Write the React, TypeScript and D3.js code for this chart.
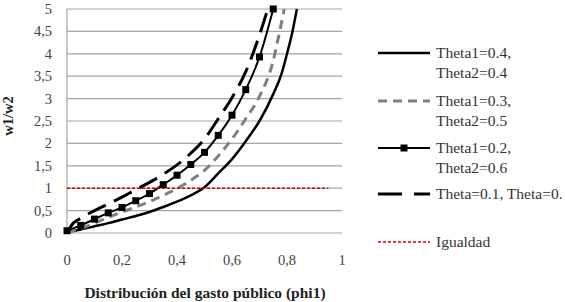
import React from 'react';
import * as d3 from 'd3';

// valores (phi1 -> w1/w2)
const phiSerie1 = [0, 0.05, 0.1, 0.15, 0.2, 0.25, 0.3, 0.35, 0.4, 0.45, 0.5, 0.55, 0.6, 0.65, 0.7, 0.75, 0.78, 0.8, 0.82, 0.836];
const serie1 = [0.02, 0.08, 0.15, 0.22, 0.3, 0.38, 0.47, 0.58, 0.7, 0.84, 1.02, 1.33, 1.65, 2.05, 2.5, 3.1, 3.55, 4.0, 4.5, 5.0];

const phiSerie2 = [0, 0.05, 0.1, 0.15, 0.2, 0.25, 0.3, 0.35, 0.4, 0.45, 0.5, 0.55, 0.6, 0.65, 0.7, 0.75, 0.77, 0.79];
const serie2 = [0.02, 0.1, 0.22, 0.35, 0.47, 0.58, 0.7, 0.84, 0.99, 1.18, 1.4, 1.72, 2.1, 2.55, 3.05, 3.85, 4.4, 5.0];

const phiSerie3 = [0, 0.05, 0.1, 0.15, 0.2, 0.25, 0.3, 0.35, 0.4, 0.45, 0.5, 0.55, 0.6, 0.65, 0.7, 0.75];
const serie3 = [0.05, 0.17, 0.31, 0.45, 0.57, 0.72, 0.88, 1.08, 1.29, 1.53, 1.8, 2.18, 2.63, 3.2, 3.93, 5.0];

const phiSerie4 = [0, 0.02, 0.05, 0.1, 0.15, 0.2, 0.25, 0.3, 0.35, 0.4, 0.45, 0.5, 0.55, 0.6, 0.65, 0.7, 0.73];
const serie4 = [0, 0.2, 0.33, 0.5, 0.65, 0.8, 0.97, 1.13, 1.31, 1.52, 1.78, 2.1, 2.55, 3.02, 3.6, 4.42, 5.0];

const phiIgualdad = [0, 0.05, 0.1, 0.15, 0.2, 0.25, 0.3, 0.35, 0.4, 0.45, 0.5, 0.55, 0.6, 0.65, 0.7, 0.75, 0.8, 0.85, 0.9, 0.95];
const igualdad = phiIgualdad.map(() => 1);

const xTicks = [0, 0.2, 0.4, 0.6, 0.8, 1];
const yTicks = [0, 0.5, 1, 1.5, 2, 2.5, 3, 3.5, 4, 4.5, 5];

const fmt = (v: number) => String(v).replace('.', ',');

const App = () => {
  const width = 565;
  const height = 302;
  const margin = { top: 9, left: 67, plotW: 275, plotH: 224 };

  const x = d3.scaleLinear().domain([0, 1]).range([margin.left, margin.left + margin.plotW]);
  const y = d3.scaleLinear().domain([0, 5]).range([margin.top + margin.plotH, margin.top]);

  const line = d3.line<[number, number]>()
    .x(d => x(d[0]))
    .y(d => y(d[1]))
    .curve(d3.curveMonotoneX);

  const zip = (xs: number[], ys: number[]) => xs.map((v, i) => [v, ys[i]] as [number, number]);

  const series = [
    { label: ['Theta1=0.4,', 'Theta2=0.4'], pts: zip(phiSerie1, serie1), stroke: '#000', width: 2.5, dash: null, marker: false },
    { label: ['Theta1=0.3,', 'Theta2=0.5'], pts: zip(phiSerie2, serie2), stroke: '#7f7f7f', width: 3, dash: '9,6', marker: false },
    { label: ['Theta1=0.2,', 'Theta2=0.6'], pts: zip(phiSerie3, serie3), stroke: '#000', width: 2, dash: null, marker: true },
    { label: ['Theta=0.1, Theta=0.'], pts: zip(phiSerie4, serie4), stroke: '#000', width: 3, dash: '20,9', marker: false },
    { label: ['Igualdad'], pts: zip(phiIgualdad, igualdad), stroke: '#d00000', width: 1.5, dash: '3,2', marker: false },
  ];

  const legendY = [53, 101, 148, 194, 242];
  const font = "'Liberation Serif', Tinos, 'Times New Roman', serif";
  const tickColor = '#444';

  return (
    <div style={{ position: 'fixed', left: 0, top: 0 }}>
      <svg width={width} height={height} style={{ display: 'block', background: '#fff', fontFamily: font }}>
        {/* grid */}
        {yTicks.map(t => (
          <line key={t} x1={x(0)} x2={x(1)} y1={y(t)} y2={y(t)} stroke="#a6a6a6" strokeWidth={1.2} />
        ))}
        <line x1={x(0)} x2={x(0)} y1={y(0)} y2={y(5)} stroke="#a6a6a6" strokeWidth={1.2} />

        {/* y ticks */}
        {yTicks.map(t => (
          <text key={t} x={margin.left - 15} y={y(t)} dy="0.35em" textAnchor="end" fontSize={14.5} fill={tickColor}>{fmt(t)}</text>
        ))}
        {/* x ticks */}
        {xTicks.map(t => (
          <text key={t} x={x(t)} y={260} dy="0.35em" textAnchor="middle" fontSize={14.5} fill={tickColor}>{fmt(t)}</text>
        ))}

        {/* series */}
        {series.map((s, i) => (
          <g key={i}>
            <path d={line(s.pts) || ''} fill="none" stroke={s.stroke} strokeWidth={s.width}
              strokeDasharray={s.dash || undefined} />
            {s.marker && s.pts.map((p, j) => (
              <rect key={j} x={x(p[0]) - 3.5} y={y(p[1]) - 3.5} width={7} height={7} fill="#000" />
            ))}
          </g>
        ))}

        {/* axis titles */}
        <text transform={`translate(13,116) rotate(-90)`} textAnchor="middle" fontSize={14.5} fontWeight="bold" fill="#222">w1/w2</text>
        <text x={205} y={293} dy="0.35em" textAnchor="middle" fontSize={15.5} fontWeight="bold" fill="#222">Distribución del gasto público (phi1)</text>

        {/* legend */}
        {series.map((s, i) => (
          <g key={i} transform={`translate(378,${legendY[i]})`}>
            <line x1={0} x2={52} y1={0} y2={0} stroke={s.stroke} strokeWidth={s.width}
              strokeDasharray={s.dash ? (i === 3 ? '24,12' : s.dash) : undefined} />
            {s.marker && <rect x={22.5} y={-3.5} width={7} height={7} fill="#000" />}
            {s.label.map((l, k) => (
              <text key={k} x={58} y={k * 20} dy="0.35em" fontSize={15.5} fill="#333">{l}</text>
            ))}
          </g>
        ))}
      </svg>
    </div>
  );
};

export default App;
